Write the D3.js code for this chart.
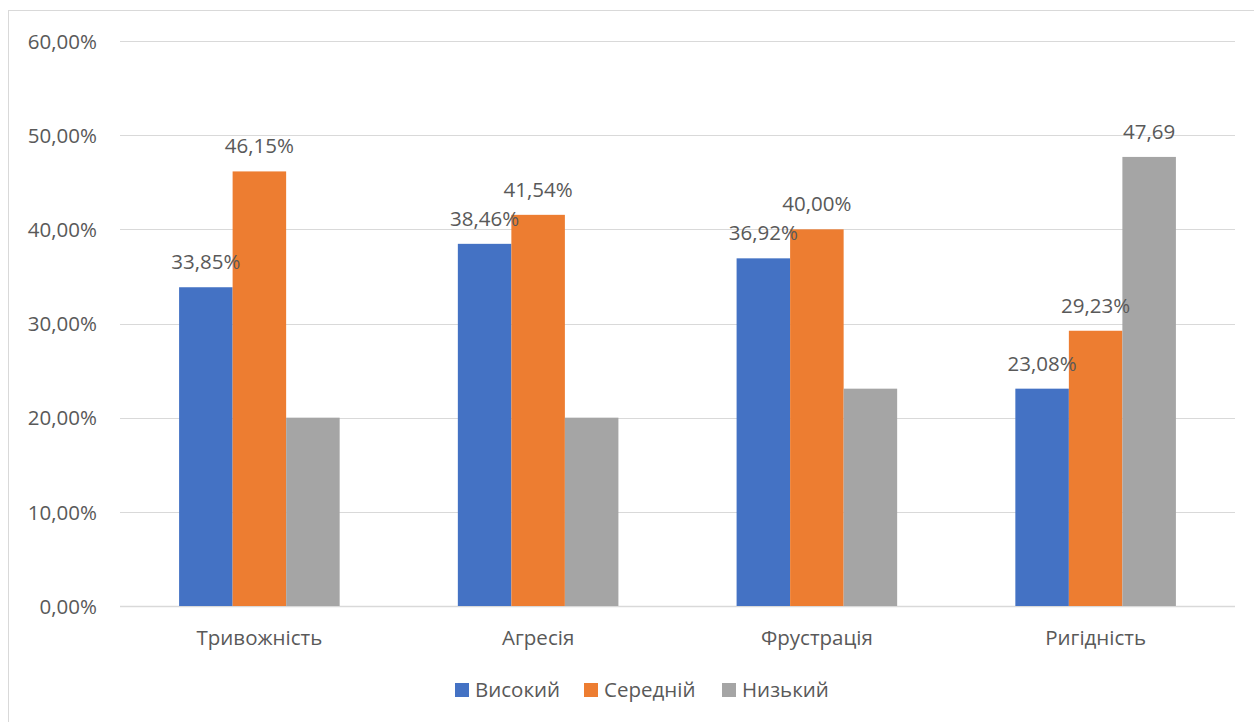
<!DOCTYPE html>
<html>
<head>
<meta charset="utf-8">
<script src="https://cdn.jsdelivr.net/npm/d3@7"></script>
<style>
  html, body { margin: 0; padding: 0; background: #fff; }
  svg { display: block; }
  text { font-family: "Open Sans", "Noto Sans", sans-serif; fill: #595959; }
</style>
</head>
<body>
<svg id="chart" width="1254" height="722"></svg>
<script>
// Рівні психічних станів за категоріями
const categories = ["Тривожність", "Агресія", "Фрустрація", "Ригідність"];
const seriesNames = ["Високий", "Середній", "Низький"];
const seriesColors = ["#4472c4", "#ed7d31", "#a5a5a5"];
const highValues = [33.85, 38.46, 36.92, 23.08];
const midValues = [46.15, 41.54, 40.00, 29.23];
const lowValues = [20.00, 20.00, 23.08, 47.69];
const yTicks = [0, 10, 20, 30, 40, 50, 60];
// Підписи значень: null — без підпису
const lowLabels = [null, null, null, "47,69"];

const series = [highValues, midValues, lowValues];

const svg = d3.select("#chart");
const W = 1254, H = 722;
const FS = 20.5;

// рамка діаграми
svg.append("rect")
  .attr("x", 8.5).attr("y", 10.5)
  .attr("width", W - 8).attr("height", H)
  .attr("fill", "#fff").attr("stroke", "#d9d9d9").attr("stroke-width", 1);

const plot = { left: 120, right: 1235, top: 41, bottom: 606 };

const x0 = d3.scaleBand()
  .domain(categories)
  .range([plot.left, plot.right])
  .paddingInner(0.424).paddingOuter(0.212);

const x1 = d3.scaleBand()
  .domain(d3.range(seriesNames.length))
  .range([0, x0.bandwidth()]);

const y = d3.scaleLinear().domain([0, 60]).range([plot.bottom, plot.top]);

const fmt = v => v.toFixed(2).replace(".", ",") + "%";

// сітка
svg.append("g")
  .selectAll("line")
  .data(yTicks)
  .join("line")
  .attr("x1", plot.left).attr("x2", plot.right)
  .attr("y1", d => Math.round(y(d)) + 0.5).attr("y2", d => Math.round(y(d)) + 0.5)
  .attr("stroke", "#d9d9d9").attr("stroke-width", d => d === 0 ? 1.5 : 1);

// вісь Y
const yAxis = d3.axisLeft(y).tickValues(yTicks).tickSize(0).tickPadding(0)
  .tickFormat(d => d.toFixed(2).replace(".", ",") + "%");
const gy = svg.append("g").attr("transform", `translate(97,0)`).call(yAxis);
gy.select(".domain").remove();
gy.selectAll("text")
  .attr("font-size", FS).attr("font-family", null).attr("fill", "#595959")
  .attr("dy", "0.35em");

// стовпчики
const groups = svg.append("g")
  .selectAll("g")
  .data(categories)
  .join("g")
  .attr("transform", d => `translate(${x0(d)},0)`);

groups.selectAll("rect")
  .data((c, ci) => series.map((s, si) => ({ si, v: s[ci] })))
  .join("rect")
  .attr("x", d => x1(d.si))
  .attr("width", x1.bandwidth())
  .attr("y", d => y(d.v))
  .attr("height", d => y(0) - y(d.v))
  .attr("fill", d => seriesColors[d.si]);

// підписи значень
groups.selectAll("text.val")
  .data((c, ci) => {
    const out = [
      { si: 0, v: highValues[ci], t: fmt(highValues[ci]) },
      { si: 1, v: midValues[ci], t: fmt(midValues[ci]) }
    ];
    if (lowLabels[ci]) out.push({ si: 2, v: lowValues[ci], t: lowLabels[ci] });
    return out;
  })
  .join("text")
  .attr("class", "val")
  .attr("x", d => x1(d.si) + x1.bandwidth() / 2)
  .attr("y", d => y(d.v) - 18)
  .attr("text-anchor", "middle")
  .attr("font-size", FS)
  .attr("fill", "#404040")
  .text(d => d.t);

// вісь X
const xAxis = d3.axisBottom(x0).tickSize(0).tickPadding(0);
const gx = svg.append("g").attr("transform", `translate(0,${plot.bottom})`).call(xAxis);
gx.select(".domain").remove();
gx.selectAll("text")
  .attr("font-size", FS).attr("font-family", null).attr("fill", "#595959")
  .attr("y", 39).attr("dy", 0);

// легенда
const legendX = [455, 584, 722];
const legend = svg.append("g")
  .selectAll("g")
  .data(seriesNames)
  .join("g")
  .attr("transform", (d, i) => `translate(${legendX[i]},683)`);
legend.append("rect")
  .attr("width", 14).attr("height", 14)
  .attr("fill", (d, i) => seriesColors[i]);
legend.append("text")
  .attr("x", 20).attr("y", 14)
  .attr("font-size", FS)
  .text(d => d);
</script>
</body>
</html>
